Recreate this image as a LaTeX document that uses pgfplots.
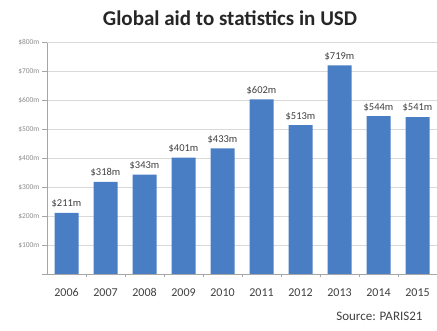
\documentclass[border=0pt]{standalone}
\usepackage{pgfplots}
\pgfplotsset{compat=1.18}
\usepackage{fontspec}
\setmainfont{Carlito}
\definecolor{barblue}{HTML}{4A7EC4}
\definecolor{gridgray}{HTML}{D9D9D9}
\definecolor{axisgray}{HTML}{A6A6A6}
\definecolor{labelgray}{HTML}{404040}
\begin{document}
\begin{tikzpicture}
\useasboundingbox (0,0) rectangle (437pt,331pt);
\begin{axis}[
  at={(47pt,57pt)}, anchor=south west,
  scale only axis, width=390pt, height=232pt,
  xmin=-0.5, xmax=9.5, ymin=0, ymax=800,
  ybar, bar width=24pt,
  axis x line*=bottom, axis y line*=left,
  axis line style={axisgray},
  ytick={0,100,...,800},
  yticklabels={,\$100m,\$200m,\$300m,\$400m,\$500m,\$600m,\$700m,\$800m},
  yticklabel style={font=\fontsize{7.5}{8}\selectfont, text=black!45, xshift=1pt},
  ymajorgrids, grid style={gridgray, line width=0.6pt},
  xtick={0,...,9},
  xticklabels={2006,2007,2008,2009,2010,2011,2012,2013,2014,2015},
  xticklabel style={font=\fontsize{12}{14}\selectfont, text=labelgray, yshift=-6pt},
  major x tick style={draw=none},
  minor xtick={0.5,1.5,...,8.5},
  minor x tick style={axisgray},
  tick align=outside,
  major tick length=5pt, minor tick length=3pt,
  y tick style={axisgray},
  nodes near coords={\$\pgfmathprintnumber[assume math mode=true]{\pgfplotspointmeta}m},
  nodes near coords style={font=\fontsize{10.5}{12}\selectfont, text=labelgray, yshift=1.5pt},
  clip=false,
]
\addplot[fill=barblue, draw=none] coordinates {
  (0,211) (1,318) (2,343) (3,401) (4,433) (5,602) (6,513) (7,719) (8,544) (9,541)
};
\draw[gridgray, line width=0.6pt] (axis cs:-0.5,800) -- (axis cs:9.5,800);
\end{axis}
\node[font=\bfseries\fontsize{21}{24}\selectfont, text=black!85] at (230pt,313pt) {Global aid to statistics in USD};
\node[font=\fontsize{13}{15}\selectfont, text=labelgray, anchor=east] at (426pt,15pt) {Source: PARIS21};
\end{tikzpicture}
\end{document}
